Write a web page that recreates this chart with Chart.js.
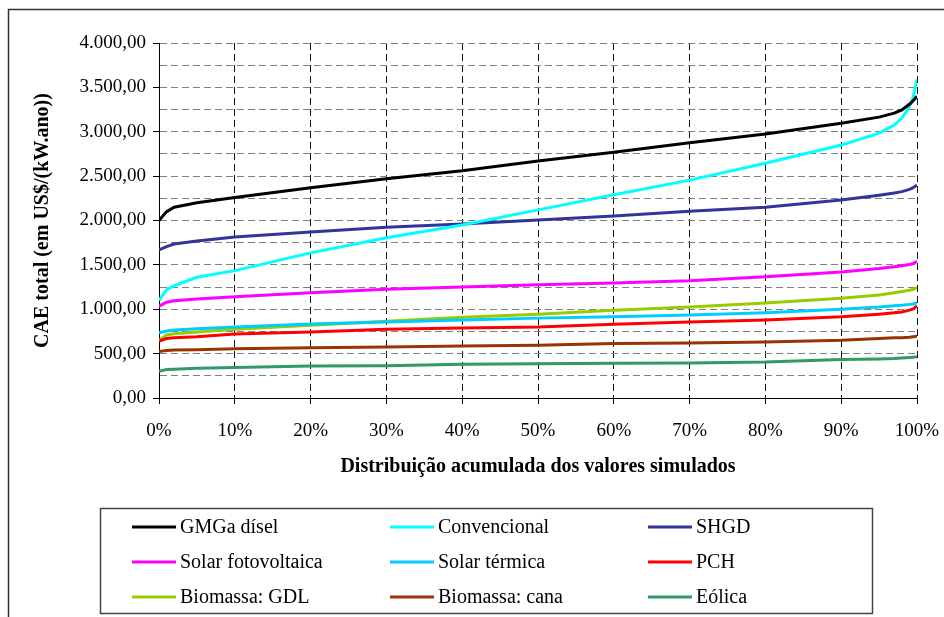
<!DOCTYPE html>
<html>
<head>
<meta charset="utf-8">
<script src="https://cdn.jsdelivr.net/npm/chart.js"></script>
<style>
  body { margin: 0; background: #fff; }
</style>
</head>
<body>
<canvas id="myChart" width="944" height="617"></canvas>
<script>
// posições da distribuição acumulada (%)
const percentis = [0, 1, 2, 5, 10, 20, 30, 40, 50, 60, 70, 80, 90, 95, 97, 98, 99, 99.5, 100];

const gmgDisel     = [2000, 2100, 2150, 2200, 2260, 2370, 2470, 2560, 2670, 2770, 2875, 2975, 3095, 3165, 3210, 3245, 3310, 3350, 3400];
const convencional = [1100, 1220, 1265, 1360, 1435, 1635, 1805, 1950, 2120, 2290, 2455, 2645, 2850, 2985, 3075, 3155, 3280, 3390, 3590];
const shgd         = [1670, 1705, 1735, 1770, 1815, 1870, 1925, 1960, 2005, 2050, 2105, 2150, 2230, 2285, 2310, 2325, 2350, 2370, 2400];
const solarFV      = [1035, 1080, 1095, 1115, 1140, 1185, 1225, 1250, 1275, 1295, 1320, 1365, 1420, 1460, 1480, 1490, 1505, 1515, 1540];
const solarTermica = [735, 755, 765, 780, 800, 835, 855, 880, 900, 915, 935, 960, 1000, 1025, 1040, 1045, 1055, 1060, 1075];
const pch          = [640, 670, 680, 690, 720, 745, 775, 790, 800, 830, 855, 880, 915, 945, 960, 970, 990, 1005, 1040];
const biomassaGDL  = [650, 710, 725, 745, 775, 820, 865, 910, 945, 990, 1025, 1070, 1125, 1160, 1185, 1200, 1215, 1225, 1245];
const biomassaCana = [525, 535, 540, 545, 555, 565, 575, 585, 595, 615, 620, 630, 650, 670, 680, 680, 685, 690, 695];
const eolica       = [300, 320, 325, 335, 345, 360, 362, 380, 385, 392, 395, 405, 435, 440, 445, 450, 455, 460, 465];

const nomes = ['GMGa dísel', 'Convencional', 'SHGD', 'Solar fotovoltaica', 'Solar térmica', 'PCH', 'Biomassa: GDL', 'Biomassa: cana', 'Eólica'];
const series = [gmgDisel, convencional, shgd, solarFV, solarTermica, pch, biomassaGDL, biomassaCana, eolica];
const cores = ['#000000', '#00FFFF', '#333399', '#FF00FF', '#00CCFF', '#FF0000', '#99CC00', '#993300', '#339966'];

const FONTE = '"Liberation Serif", "Times New Roman", serif';

function formataBR(v) {
  const s = Math.round(v).toString().replace(/\B(?=(\d{3})+(?!\d))/g, '.');
  return s + ',00';
}

// moldura externa + legenda em caixa (3 colunas)
const molduraELegenda = {
  id: 'molduraELegenda',
  beforeDraw(chart) {
    const ctx = chart.ctx;
    ctx.save();
    ctx.fillStyle = '#fff';
    ctx.fillRect(0, 0, chart.width, chart.height);
    ctx.restore();
  },
  afterDraw(chart) {
    const ctx = chart.ctx;
    ctx.save();
    ctx.strokeStyle = '#333';
    ctx.lineWidth = 1.5;
    ctx.beginPath();
    ctx.moveTo(8.5, chart.height);
    ctx.lineTo(8.5, 9.5);
    ctx.lineTo(chart.width, 9.5);
    ctx.stroke();

    ctx.strokeStyle = '#444';
    ctx.lineWidth = 1.5;
    ctx.strokeRect(100.5, 508.5, 772, 105);

    ctx.font = '20px ' + FONTE;
    ctx.textBaseline = 'middle';
    ctx.fillStyle = '#000';
    chart.data.datasets.forEach((ds, i) => {
      const col = i % 3, row = Math.floor(i / 3);
      const x = 132 + col * 258;
      const y = 527 + row * 35;
      ctx.strokeStyle = ds.borderColor;
      ctx.lineWidth = 3;
      ctx.beginPath();
      ctx.moveTo(x, y);
      ctx.lineTo(x + 44, y);
      ctx.stroke();
      ctx.fillText(ds.label, x + 48, y + 1);
    });
    ctx.restore();
  }
};

const ctx = document.getElementById('myChart');

new Chart(ctx, {
  type: 'line',
  data: {
    datasets: series.map((vals, i) => ({
      label: nomes[i],
      data: vals.map((v, k) => ({ x: percentis[k], y: v })),
      borderColor: cores[i],
      backgroundColor: cores[i],
      borderWidth: 3,
      pointRadius: 0,
      tension: 0
    }))
  },
  options: {
    responsive: false,
    animation: false,
    layout: { padding: { top: 43, right: 27, left: 0, bottom: 0 } },
    plugins: {
      legend: { display: false },
      tooltip: { enabled: false }
    },
    scales: {
      x: {
        type: 'linear',
        min: 0,
        max: 100,
        afterFit: s => {
          s.height = 219;
          s.paddingLeft = 0;
          s.paddingRight = 0;
        },
        ticks: {
          stepSize: 10,
          padding: 16,
          color: '#000',
          font: { family: FONTE, size: 19 },
          callback: v => v + '%'
        },
        grid: {
          color: '#111',
          tickLength: 6,
          tickColor: '#000'
        },
        border: { display: true, color: '#000', width: 1, dash: [7, 4] },
        title: {
          display: true,
          text: 'Distribuição acumulada dos valores simulados',
          color: '#000',
          font: { family: FONTE, size: 20, weight: 'bold' },
          padding: { top: 0, bottom: 138 }
        }
      },
      y: {
        min: 0,
        max: 4000,
        afterFit: s => {
          s.width = 159;
          s.paddingTop = 0;
          s.paddingBottom = 0;
        },
        ticks: {
          stepSize: 250,
          autoSkip: false,
          padding: 7,
          color: '#000',
          font: { family: FONTE, size: 19 },
          callback: v => (v % 500 === 0 ? formataBR(v) : '')
        },
        grid: {
          color: '#808080',
          tickLength: 6,
          tickColor: c => (c.tick && c.tick.value % 500 === 0 ? '#000' : 'rgba(0,0,0,0)')
        },
        border: { display: true, color: '#000', width: 1, dash: [7, 4] },
        title: {
          display: true,
          text: 'CAE total (em US$/(kW.ano))',
          color: '#000',
          font: { family: FONTE, size: 20, weight: 'bold' },
          padding: { top: 31, bottom: 0 }
        }
      }
    }
  },
  plugins: [molduraELegenda]
});
</script>
</body>
</html>
